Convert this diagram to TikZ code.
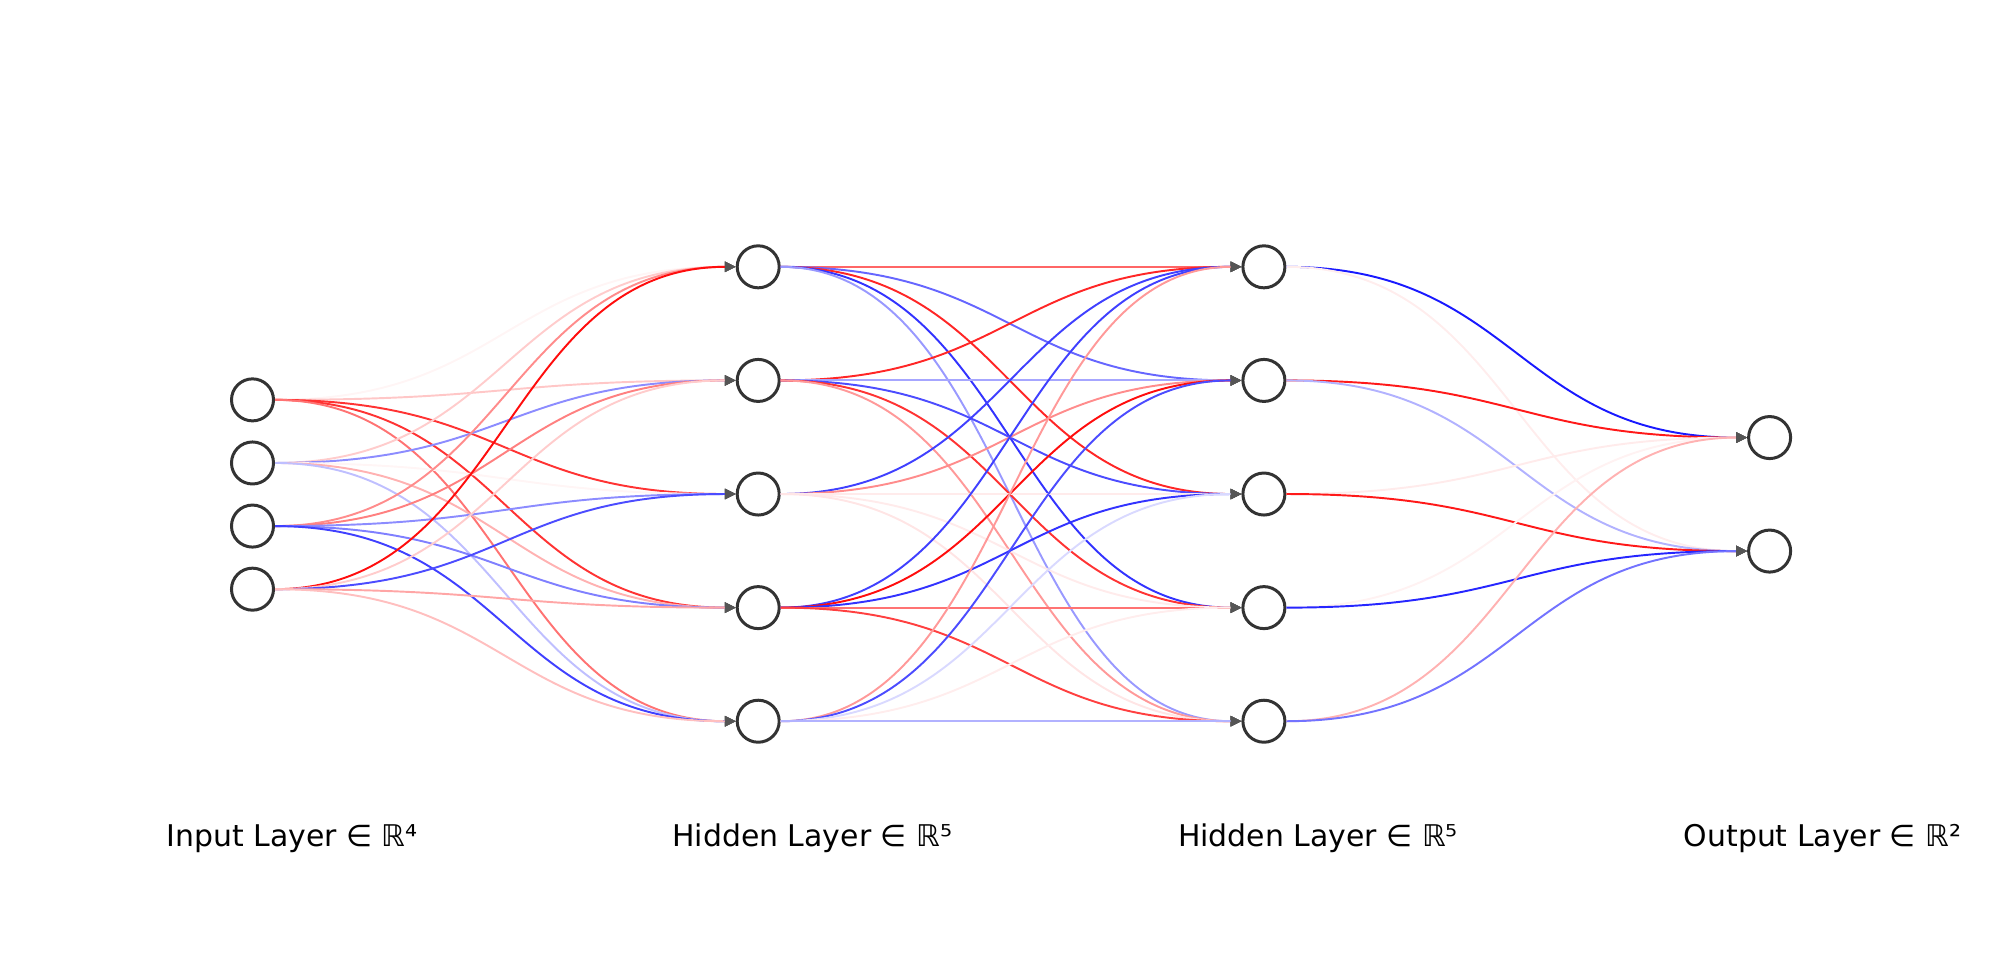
\documentclass[tikz,border=0pt]{standalone}
\usepackage{fontspec}
\setmainfont{DejaVu Sans}
\usetikzlibrary{arrows.meta}
\definecolor{nodegray}{RGB}{51,51,51}
\definecolor{tipgray}{RGB}{85,85,85}

\begin{document}
\begin{tikzpicture}[x=0.01cm, y=-0.01cm,
    neuron/.style={circle, draw=nodegray, line width=0.85pt, fill=white, minimum size=0.42cm, inner sep=0pt},
    wire/.style={line width=0.55pt, -{Triangle[length=3.1pt, width=2.9pt, color=tipgray]}},
    every node/.style={font=\fontsize{8.5}{10}\selectfont}]
  \useasboundingbox (0,0) rectangle (2000,953);
  \foreach \i in {1,...,4}
    \node[neuron] (in\i) at (252.5, {494.5+63.1*(\i-2.5)}) {};
  \foreach \i in {1,...,5} {
    \node[neuron] (ha\i) at (758.2, {494+113.6*(\i-3)}) {};
    \node[neuron] (hb\i) at (1263.9, {494+113.6*(\i-3)}) {};
  }
  \foreach \i in {1,2}
    \node[neuron] (out\i) at (1769.6, {494.3+113.5*(\i-1.5)}) {};
  \foreach \s/\t/\c in {in1/ha1/red!4, in1/ha2/red!22, in1/ha3/red!80, in1/ha4/red!80, in1/ha5/red!55,
      in2/ha1/red!20, in2/ha2/blue!45, in2/ha3/red!4, in2/ha4/red!30, in2/ha5/blue!25,
      in3/ha1/red!45, in3/ha2/red!50, in3/ha3/blue!45, in3/ha4/blue!50, in3/ha5/blue!75,
      in4/ha1/red!95, in4/ha2/red!20, in4/ha3/blue!70, in4/ha4/red!35, in4/ha5/red!25,
      ha1/hb1/red!60, ha1/hb2/blue!60, ha1/hb3/red!85, ha1/hb4/blue!80, ha1/hb5/blue!40,
      ha2/hb1/red!85, ha2/hb2/blue!35, ha2/hb3/blue!70, ha2/hb4/red!80, ha2/hb5/red!40,
      ha3/hb1/blue!75, ha3/hb2/red!45, ha3/hb3/red!8, ha3/hb4/red!8, ha3/hb5/red!10,
      ha4/hb1/blue!75, ha4/hb2/red!95, ha4/hb3/blue!80, ha4/hb4/red!55, ha4/hb5/red!75,
      ha5/hb1/red!40, ha5/hb2/blue!70, ha5/hb3/blue!15, ha5/hb4/red!7, ha5/hb5/blue!30,
      hb1/out1/blue!90, hb1/out2/red!7, hb2/out1/red!90, hb2/out2/blue!30,
      hb3/out1/red!8, hb3/out2/red!90, hb4/out1/red!5, hb4/out2/blue!85,
      hb5/out1/red!30, hb5/out2/blue!55}
    \draw[wire, \c] (\s.east) .. controls +(230,0) and +(-230,0) .. (\t.west);
  \foreach \k/\t in {0/Input Layer ∈ ℝ⁴, 1/Hidden Layer ∈ ℝ⁵, 2/Hidden Layer ∈ ℝ⁵, 3/Output Layer ∈ ℝ²}
    \node[anchor=base west, inner sep=0pt] (lbl\k) at (166+505.7*\k, 846.7) {\t};
\end{tikzpicture}
\end{document}
